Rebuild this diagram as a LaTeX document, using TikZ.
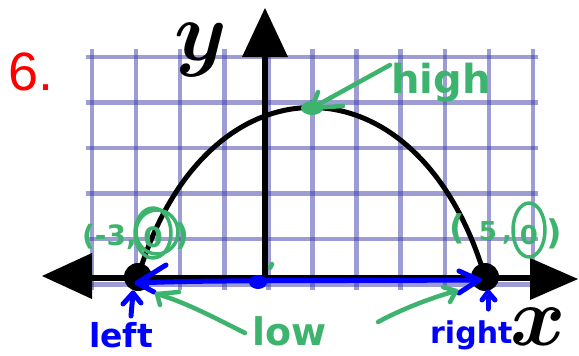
\RequirePackage{fix-cm}
\documentclass[tikz,border=0pt]{standalone}
\usepackage{fontspec}
\setmainfont{Liberation Sans}
\newfontfamily\hand{DejaVu Sans}
\definecolor{gridc}{RGB}{60,60,170}
\definecolor{hgreen}{RGB}{60,180,110}
\definecolor{hblue}{RGB}{0,0,255}
\definecolor{hred}{RGB}{255,0,0}
\begin{document}
\begin{tikzpicture}[x=1pt,y=-1pt,
  gridline/.style={draw=gridc,draw opacity=0.5,line width=4.5},
  axis/.style={line width=6.5},
  head/.style={fill=black},
  gstroke/.style={draw=hgreen,line width=4.5,line cap=round,line join=round},
  bstroke/.style={draw=hblue,line width=5,line cap=round,line join=round},
  gtext/.style={text=hgreen,inner sep=0pt},
  btext/.style={text=hblue,inner sep=0pt},
]
\useasboundingbox (0,0) rectangle (579,356);
\fill[white] (0,0) rectangle (579,356);
% grid
\foreach \i in {0,...,10} \draw[gridline] ({92+44.1*\i},49) -- ({92+44.1*\i},290);
\foreach \j in {0,...,5} \draw[gridline] (86,{57+45.5*\j}) -- (538,{57+45.5*\j});
% coordinates
\coordinate (L) at (138,277);
\coordinate (R) at (485,277);
\coordinate (O) at (265,278);
\coordinate (V) at (312,108);
% axes
\draw[axis] (92,278) -- (530,278);
\draw[axis] (265,278) -- (265,55);
\fill[head] (42,276) -- (92,253) -- (92,299) -- cycle;
\fill[head] (578,279) -- (530,258) -- (530,300) -- cycle;
\fill[head] (265,8) -- (242,57) -- (288,57) -- cycle;
% curve
\draw[line width=5] (L) .. controls (205,51) and (418,51) .. (R);
\fill (L) circle (14);
\fill (R) circle (14);
% red label
\node[anchor=base west,inner sep=0pt,text=hred,font=\fontsize{54}{54}\selectfont] (six) at (8,90) {6.};
% axis labels
\node[inner sep=0pt,font=\fontsize{84}{84}\selectfont\boldmath] (ylab) at (201,50) {$y$};
\node[inner sep=0pt,font=\fontsize{84}{84}\selectfont\boldmath] (xlab) at (538,327) {$x$};
% blue segment
\coordinate (bl) at (137,283);
\coordinate (br) at (479,280);
\draw[bstroke] (bl) .. controls (200,280) and (300,281) .. (br);
\draw[bstroke] (166,265) -- (bl) -- (154,292);
\draw[bstroke] (459,271) -- (br) -- (459,293);
\fill[hblue] (258,282) ellipse (9 and 7);
% blue up arrows
\coordinate (lu) at (133,293);
\coordinate (ru) at (488,292);
\draw[bstroke] (131,316) -- (lu);
\draw[bstroke] (123,304) -- (lu) -- (141,303);
\draw[bstroke] (488,309) -- (ru);
\draw[bstroke] (482,300) -- (ru) -- (495,300);
\node[btext,anchor=base west,font=\hand\bfseries\fontsize{33}{33}\selectfont] (left) at (89,347) {left};
\node[btext,anchor=base west,font=\hand\bfseries\fontsize{30}{30}\selectfont] (right) at (430,343) {right};
% green: high
\node[gtext,anchor=base west,font=\hand\bfseries\fontsize{40}{40}\selectfont] (high) at (391,93) {high};
\fill[hgreen] (V) ellipse (11 and 7);
\draw[gstroke] (390,65) -- (V);
\draw[gstroke] (318,92) -- (V) -- (343,106);
% green: low
\node[gtext,anchor=base west,font=\hand\bfseries\fontsize{38}{38}\selectfont] (low) at (252,345) {low};
\coordinate (lt) at (157,294);
\coordinate (rt) at (456,291);
\draw[gstroke] (245,333) .. controls (215,318) and (185,302) .. (lt);
\draw[gstroke] (179,292) -- (lt) -- (160,305);
\draw[gstroke] (378,322) .. controls (400,310) and (430,298) .. (rt);
\draw[gstroke] (443,287) -- (rt) -- (450,302);
\draw[gstroke] (270,268) -- (272,264);
% green: (-3,0)
\node[gtext,anchor=base west,font=\hand\bfseries\fontsize{28}{28}\selectfont] (m3) at (82,245) {(-3,};
\node[gtext,font=\hand\bfseries\fontsize{28}{28}\selectfont] (z1) at (153,237) {0};
\node[gtext,font=\hand\bfseries\fontsize{30}{30}\selectfont] (p1) at (182,236) {)};
\draw[gstroke,line width=3.5] (153,233) ellipse (18 and 25);
\draw[gstroke,line width=3.5] (157,232) ellipse (21 and 22);
% green: (5,0)
\node[gtext,font=\hand\bfseries\fontsize{34}{34}\selectfont] (p2) at (457,229) {(};
\node[gtext,font=\hand\bfseries\fontsize{26}{26}\selectfont] (five) at (488,231) {5};
\node[gtext,font=\hand\bfseries\fontsize{26}{26}\selectfont] (c2) at (507,240) {,};
\node[gtext,font=\hand\bfseries\fontsize{26}{26}\selectfont] (z2) at (529,235) {0};
\draw[gstroke,line width=3.5] (529,230) ellipse (16 and 27);
\node[gtext,font=\hand\bfseries\fontsize{34}{34}\selectfont] (q2) at (554,234) {)};
\end{tikzpicture}
\end{document}
